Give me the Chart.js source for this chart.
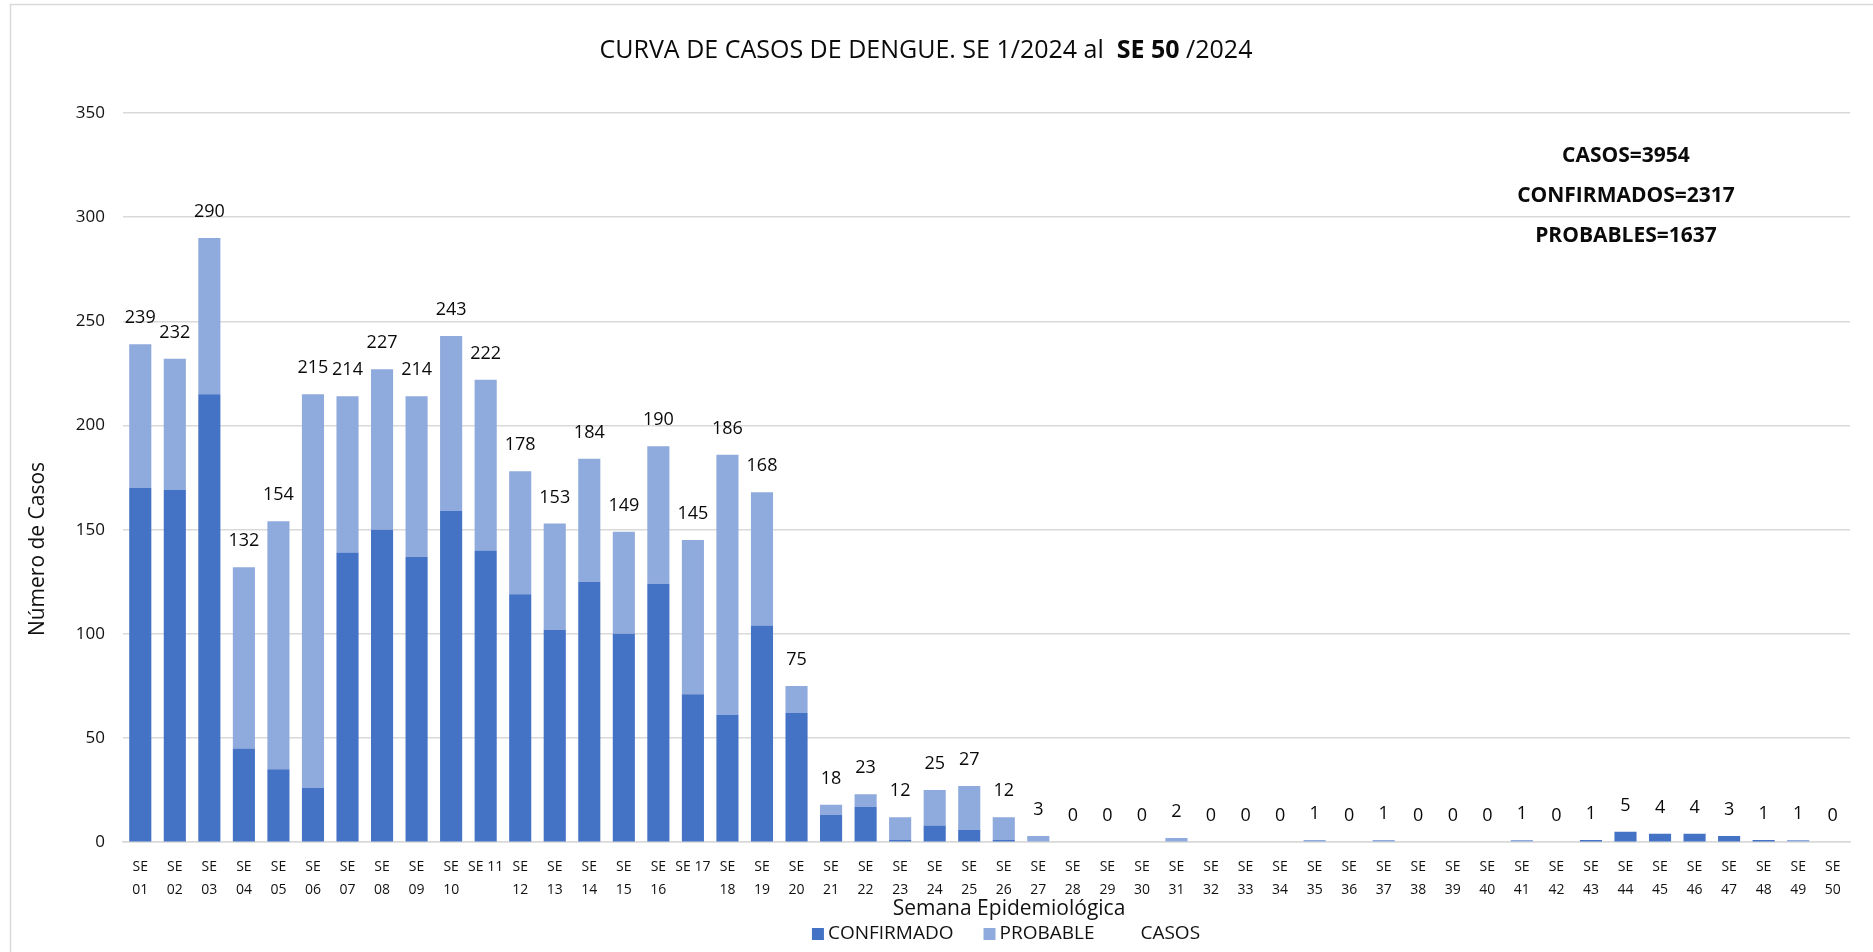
<!DOCTYPE html>
<html>
<head>
<meta charset="utf-8">
<script src="https://cdn.jsdelivr.net/npm/chart.js@4.4.1/dist/chart.umd.min.js"></script>
<style>
  html, body { margin: 0; padding: 0; background: #fff; }
  #wrap { width: 1873px; height: 952px; position: relative; }
</style>
</head>
<body>
<div id="wrap"><canvas id="chart"></canvas></div>
<script>
// semanas epidemiologicas 1..50
var semanas = [
  ['SE','01'],['SE','02'],['SE','03'],['SE','04'],['SE','05'],['SE','06'],['SE','07'],['SE','08'],['SE','09'],['SE','10'],
  'SE 11',['SE','12'],['SE','13'],['SE','14'],['SE','15'],['SE','16'],'SE 17',['SE','18'],['SE','19'],['SE','20'],
  ['SE','21'],['SE','22'],['SE','23'],['SE','24'],['SE','25'],['SE','26'],['SE','27'],['SE','28'],['SE','29'],['SE','30'],
  ['SE','31'],['SE','32'],['SE','33'],['SE','34'],['SE','35'],['SE','36'],['SE','37'],['SE','38'],['SE','39'],['SE','40'],
  ['SE','41'],['SE','42'],['SE','43'],['SE','44'],['SE','45'],['SE','46'],['SE','47'],['SE','48'],['SE','49'],['SE','50']
];

var casos = [239,232,290,132,154,215,214,227,214,243,
             222,178,153,184,149,190,145,186,168,75,
             18,23,12,25,27,12,3,0,0,0,
             2,0,0,0,1,0,1,0,0,0,
             1,0,1,5,4,4,3,1,1,0];

var confirmados = [170,169,215,45,35,26,139,150,137,159,
                   140,119,102,125,100,124,71,61,104,62,
                   13,17,1,8,6,1,0,0,0,0,
                   0,0,0,0,0,0,0,0,0,0,
                   0,0,1,5,4,4,3,1,0,0];

var probables = [];
for (var i = 0; i < casos.length; i++) {
  probables.push(casos[i] - confirmados[i]);
}

var resumen = ['CASOS=3954', 'CONFIRMADOS=2317', 'PROBABLES=1637'];
var yTicks = [0, 50, 100, 150, 200, 250, 300, 350];

var FONT = "'Open Sans', 'Noto Sans', sans-serif";
var azul = '#4472C4';
var celeste = '#8FAADC';

// marco, titulos, etiquetas, leyenda y cuadro de totales
var extras = {
  id: 'extras',
  beforeDraw: function(c) {
    var ctx = c.ctx;
    ctx.save();
    ctx.strokeStyle = '#d9d9d9';
    ctx.lineWidth = 1.5;
    ctx.strokeRect(10.5, 4.5, 1880, 960);
    ctx.restore();
  },
  afterDatasetsDraw: function(c) {
    var ctx = c.ctx;
    var meta = c.getDatasetMeta(2);
    ctx.save();
    ctx.fillStyle = '#0a0a0a';
    ctx.font = '18px ' + FONT;
    ctx.textAlign = 'center';
    ctx.textBaseline = 'bottom';
    meta.data.forEach(function(pt, i) {
      ctx.fillText(String(casos[i]), pt.x, pt.y - 17);
    });

    // titulo con "SE 50" en negrita
    var parts = [
      {t: 'CURVA DE CASOS DE DENGUE. SE 1/2024 al  ', b: false},
      {t: 'SE 50', b: true},
      {t: ' /2024', b: false}
    ];
    var total = 0;
    parts.forEach(function(p) {
      ctx.font = (p.b ? 'bold ' : '') + '25px ' + FONT;
      p.w = ctx.measureText(p.t).width;
      total += p.w;
    });
    var x = 926 - total / 2;
    ctx.textAlign = 'left';
    ctx.textBaseline = 'middle';
    parts.forEach(function(p) {
      ctx.font = (p.b ? 'bold ' : '') + '25px ' + FONT;
      ctx.fillText(p.t, x, 51);
      x += p.w;
    });

    ctx.font = 'bold 21px ' + FONT;
    ctx.textAlign = 'center';
    resumen.forEach(function(t, i) {
      ctx.fillText(t, 1626, 156 + i * 40);
    });

    // leyenda
    ctx.font = '19px ' + FONT;
    ctx.textAlign = 'left';
    var items = c.data.datasets.map(function(ds) {
      return {label: ds.label, color: ds.backgroundColor, w: ctx.measureText(ds.label).width};
    });
    var box = 12, gap = 4, sep = 30;
    var legW = 0;
    items.forEach(function(it, k) { legW += box + gap + it.w + (k ? sep : 0); });
    var lx = 1006 - legW / 2;
    items.forEach(function(it) {
      ctx.fillStyle = it.color;
      ctx.fillRect(lx, 928, box, box);
      ctx.fillStyle = '#111';
      ctx.fillText(it.label, lx + box + gap, 934);
      lx += box + gap + it.w + sep;
    });

    // titulos de ejes
    ctx.fillStyle = '#111';
    ctx.textAlign = 'center';
    ctx.font = '21px ' + FONT;
    ctx.fillText('Semana Epidemiológica', 1009, 909);
    ctx.translate(38, 549);
    ctx.rotate(-Math.PI / 2);
    ctx.fillText('Número de Casos', 0, 0);
    ctx.restore();
  }
};

new Chart(document.getElementById('chart'), {
  type: 'bar',
  data: {
    labels: semanas,
    datasets: [
      {label: 'CONFIRMADO', data: confirmados, backgroundColor: azul, stack: 'se',
       barPercentage: 0.64, categoryPercentage: 1},
      {label: 'PROBABLE', data: probables, backgroundColor: celeste, stack: 'se',
       barPercentage: 0.64, categoryPercentage: 1},
      {label: 'CASOS', type: 'line', data: casos, stack: 'casos', showLine: false,
       pointRadius: 0, borderColor: 'rgba(0,0,0,0)', backgroundColor: 'rgba(0,0,0,0)'}
    ]
  },
  options: {
    responsive: true,
    maintainAspectRatio: false,
    animation: false,
    layout: {padding: {left: 18, right: 23, top: 113, bottom: 37}},
    plugins: {
      tooltip: {enabled: false},
      title: {display: false},
      legend: {display: false}
    },
    scales: {
      x: {
        stacked: true,
        grid: {display: false, drawTicks: false},
        border: {color: '#d9d9d9', width: 1.5},
        ticks: {
          autoSkip: false,
          maxRotation: 0,
          minRotation: 0,
          padding: 14,
          color: '#111',
          font: {family: FONT, size: 14, lineHeight: 1.6}
        }
      },
      y: {
        stacked: true,
        min: 0,
        max: 350,
        afterFit: function(s) { s.width = 105; },
        afterBuildTicks: function(s) {
          s.ticks = yTicks.map(function(v) { return {value: v}; });
        },
        grid: {color: '#d9d9d9', lineWidth: 1.5, drawTicks: false},
        border: {display: false},
        ticks: {
          padding: 18,
          color: '#111',
          font: {family: FONT, size: 17}
        }
      }
    }
  },
  plugins: [extras]
});
</script>
</body>
</html>
